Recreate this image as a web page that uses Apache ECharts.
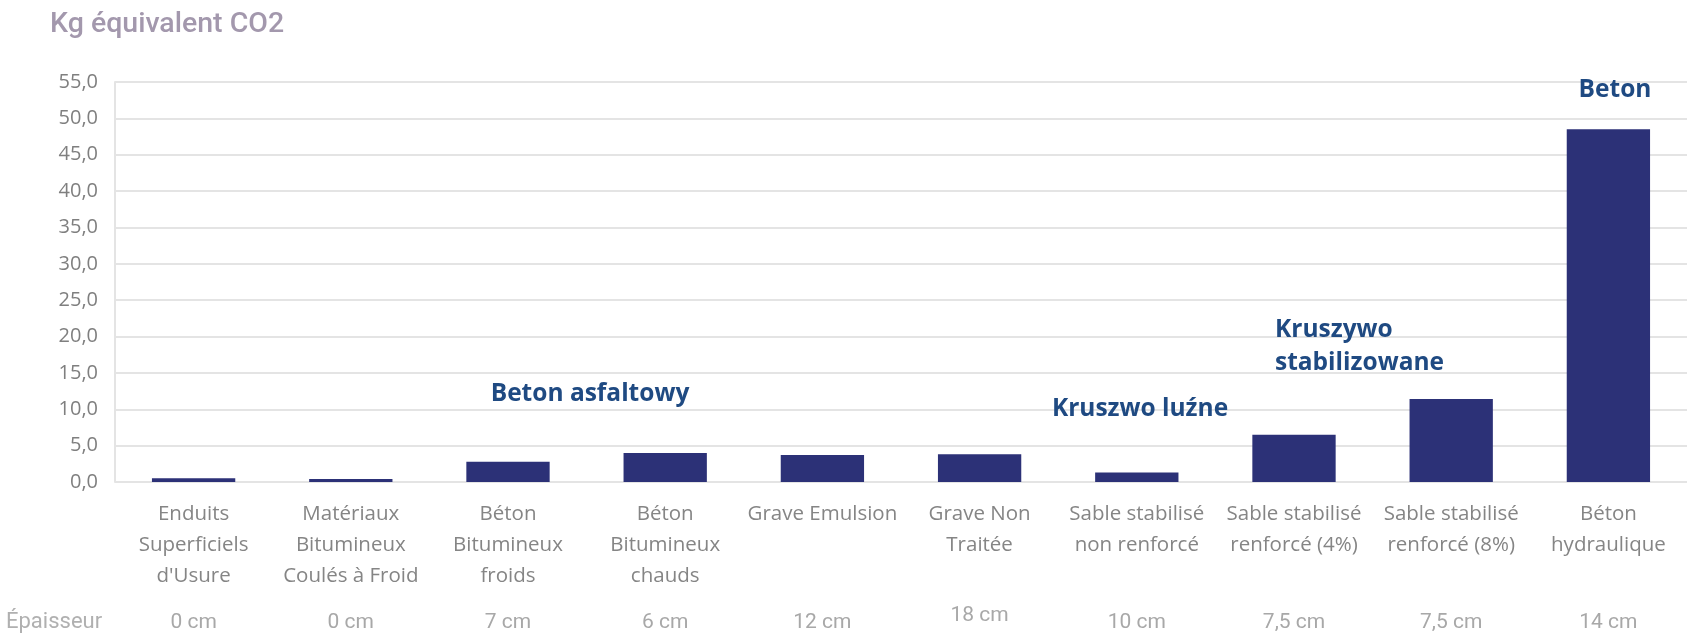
<!DOCTYPE html>
<html>
<head>
<meta charset="utf-8">
<script src="https://cdn.jsdelivr.net/npm/echarts@6/dist/echarts.min.js"></script>
<style>
  html, body { margin: 0; padding: 0; background: #ffffff; }
  #chart { width: 1687px; height: 633px; }
</style>
</head>
<body>
<div id="chart"></div>
<script>
// Material names (French) and their carbon footprint in kg CO2 equivalent
const categories = [
  "Enduits\nSuperficiels\nd'Usure",
  "Matériaux\nBitumineux\nCoulés à Froid",
  "Béton\nBitumineux\nfroids",
  "Béton\nBitumineux\nchauds",
  "Grave Emulsion",
  "Grave Non\nTraitée",
  "Sable stabilisé\nnon renforcé",
  "Sable stabilisé\nrenforcé (4%)",
  "Sable stabilisé\nrenforcé (8%)",
  "Béton\nhydraulique"
];
const co2Values = [0.5, 0.4, 2.8, 4.0, 3.7, 3.8, 1.3, 6.5, 11.4, 48.5];
const thickness = ["0 cm", "0 cm", "7 cm", "6 cm", "12 cm", "18 cm", "10 cm", "7,5 cm", "7,5 cm", "14 cm"];
const yTicks = [0, 5, 10, 15, 20, 25, 30, 35, 40, 45, 50, 55];
// the thickness caption that sits a little higher than the others
const raisedThickness = [5];

// Polish group captions placed above the material groups
const groupNotes = [
  { text: "Beton asfaltowy", x: 590, y: 394, align: "center" },
  { text: "Kruszwo luźne", x: 1140, y: 409, align: "center" },
  { text: "Kruszywo\nstabilizowane", x: 1275, y: 347, align: "left" },
  { text: "Beton", x: 1615, y: 90, align: "center" }
];

const chart = echarts.init(document.getElementById('chart'), null, { renderer: 'canvas' });

const fmtTick = v => v.toFixed(1).replace('.', ',');

chart.setOption({
  animation: false,
  backgroundColor: '#ffffff',
  grid: { left: 115, right: -12, top: 82, bottom: 151 },
  xAxis: [
    {
      type: 'category',
      data: categories,
      axisLine: { show: false },
      axisTick: { show: false },
      axisLabel: {
        interval: 0,
        margin: 17,
        color: '#858585',
        fontFamily: 'Open Sans',
        fontSize: 20.5,
        lineHeight: 31
      }
    },
    {
      type: 'category',
      position: 'bottom',
      offset: 123,
      data: thickness,
      axisLine: { show: false },
      axisTick: { show: false },
      axisLabel: {
        interval: 0,
        margin: 0,
        formatter: (v, i) => raisedThickness.includes(i) ? '{up|' + v + '}' : '{n|' + v + '}',
        rich: {
          n: { color: '#a8a8a8', fontFamily: 'Roboto', fontSize: 21, padding: [7, 0, 0, 0] },
          up: { color: '#a8a8a8', fontFamily: 'Roboto', fontSize: 21, padding: [0, 0, 0, 0] }
        }
      }
    }
  ],
  yAxis: {
    type: 'value',
    min: yTicks[0],
    max: yTicks[yTicks.length - 1],
    interval: 5,
    axisLine: { show: true, lineStyle: { color: '#e4e4e4', width: 2 } },
    axisTick: { show: false },
    splitLine: { lineStyle: { color: '#e4e4e4', width: 2 } },
    axisLabel: {
      margin: 17,
      color: '#7f7f7f',
      fontFamily: 'Open Sans',
      fontSize: 20,
      formatter: fmtTick
    }
  },
  series: [
    {
      type: 'bar',
      data: co2Values,
      barCategoryGap: '47%',
      itemStyle: { color: '#2c3177' }
    }
  ],
  graphic: [
    {
      type: 'text',
      left: 50,
      top: 10,
      z: 100,
      style: {
        text: 'Kg équivalent CO2',
        fill: '#a398ad',
        font: '500 28.5px Roboto'
      }
    },
    {
      type: 'text',
      left: 6,
      top: 611,
      z: 100,
      style: {
        text: 'Épaisseur',
        fill: '#b0b0b0',
        font: '22px Roboto'
      }
    }
  ].concat(groupNotes.map(n => ({
    type: 'text',
    x: n.x,
    y: n.y,
    z: 100,
    style: {
      text: n.text,
      fill: '#1f4a82',
      font: 'bold 24.5px "Open Sans"',
      align: n.align,
      verticalAlign: 'middle',
      lineHeight: 33
    }
  })))
});
</script>
</body>
</html>
